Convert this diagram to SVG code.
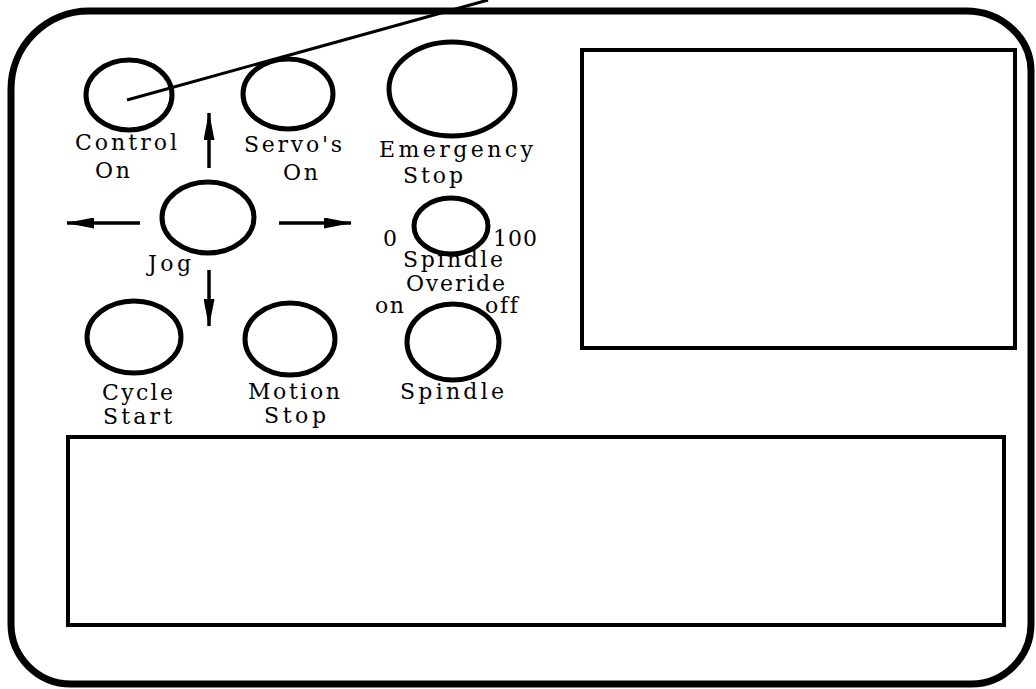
<svg xmlns="http://www.w3.org/2000/svg" width="1036" height="689" viewBox="0 0 1036 689">
<style>
.frame{fill:none;stroke:#000;stroke-width:7}
.box{fill:none;stroke:#000;stroke-width:4}
.btn{fill:none;stroke:#000;stroke-width:5}
.lbl{font-family:"DejaVu Serif","Liberation Serif",serif;font-size:22px;fill:#000;font-variant-ligatures:none}
.ptr{stroke:#000;stroke-width:3;fill:none}
.arr{stroke:#000;stroke-width:3.5;fill:none;marker-end:url(#head)}
</style>
<defs>
<marker id="head" markerUnits="userSpaceOnUse" markerWidth="28" markerHeight="11" refX="27" refY="5.5" orient="auto">
<path d="M0,0 L28,5.5 L0,11 Z" fill="#000"/>
</marker>
</defs>
<rect width="1036" height="689" fill="#fff"/>
<g id="frame">
<path class="frame" d="M11,89 A78,78 0 0 1 89,11 L966,11 A65,60 0 0 1 1031,71 L1031,624 A60,60 0 0 1 971,684 L71,684 A60,60 0 0 1 11,624 Z"/>
</g>
<g id="display-right"><rect class="box" x="582" y="50" width="433" height="298"/></g>
<g id="display-bottom"><rect class="box" x="68" y="437" width="936" height="188"/></g>
<g id="control-on">
<ellipse class="btn" cx="129" cy="95" rx="43" ry="35"/>
<text class="lbl" x="75" y="150" textLength="102" lengthAdjust="spacing">Control</text>
<text class="lbl" x="95" y="178" textLength="35" lengthAdjust="spacing">On</text>
</g>
<g id="servos-on">
<ellipse class="btn" cx="288" cy="94" rx="45" ry="35"/>
<text class="lbl" x="244" y="152" textLength="98" lengthAdjust="spacing">Servo's</text>
<text class="lbl" x="283" y="180" textLength="35" lengthAdjust="spacing">On</text>
</g>
<g id="emergency-stop">
<ellipse class="btn" cx="452" cy="89" rx="63" ry="47"/>
<text class="lbl" x="379" y="157" textLength="154" lengthAdjust="spacing">Emergency</text>
<text class="lbl" x="403" y="183" textLength="60" lengthAdjust="spacing">Stop</text>
</g>
<g id="jog">
<ellipse class="btn" cx="208" cy="217.5" rx="46" ry="35.5"/>
<text class="lbl" x="148" y="271" textLength="43" lengthAdjust="spacing">Jog</text>
</g>
<g id="spindle-override">
<ellipse class="btn" cx="451" cy="226" rx="37" ry="28"/>
<text class="lbl" x="383" y="246" textLength="12" lengthAdjust="spacing">0</text>
<text class="lbl" x="493" y="246" textLength="44" lengthAdjust="spacing">100</text>
<text class="lbl" x="403" y="267" textLength="100" lengthAdjust="spacing">Spindle</text>
<text class="lbl" x="406" y="291" textLength="99" lengthAdjust="spacing">Overide</text>
</g>
<g id="spindle">
<ellipse class="btn" cx="453" cy="342" rx="46" ry="38"/>
<text class="lbl" x="375" y="313" textLength="29" lengthAdjust="spacing">on</text>
<text class="lbl" x="485" y="313" textLength="33" lengthAdjust="spacing">off</text>
<text class="lbl" x="400" y="399" textLength="104" lengthAdjust="spacing">Spindle</text>
</g>
<g id="cycle-start">
<ellipse class="btn" cx="134" cy="337" rx="47" ry="36"/>
<text class="lbl" x="102" y="400" textLength="71" lengthAdjust="spacing">Cycle</text>
<text class="lbl" x="103" y="424" textLength="69" lengthAdjust="spacing">Start</text>
</g>
<g id="motion-stop">
<ellipse class="btn" cx="290" cy="339" rx="45" ry="36"/>
<text class="lbl" x="248" y="399" textLength="92" lengthAdjust="spacing">Motion</text>
<text class="lbl" x="264" y="423" textLength="62" lengthAdjust="spacing">Stop</text>
</g>
<g id="connectors">
<line class="ptr" x1="127" y1="100" x2="488" y2="0"/>
<line class="arr" x1="209" y1="168" x2="209" y2="113"/>
<line class="arr" x1="209" y1="270" x2="209" y2="326"/>
<line class="arr" x1="140" y1="223" x2="67" y2="223"/>
<line class="arr" x1="279" y1="223" x2="351" y2="223"/>
</g>
</svg>
